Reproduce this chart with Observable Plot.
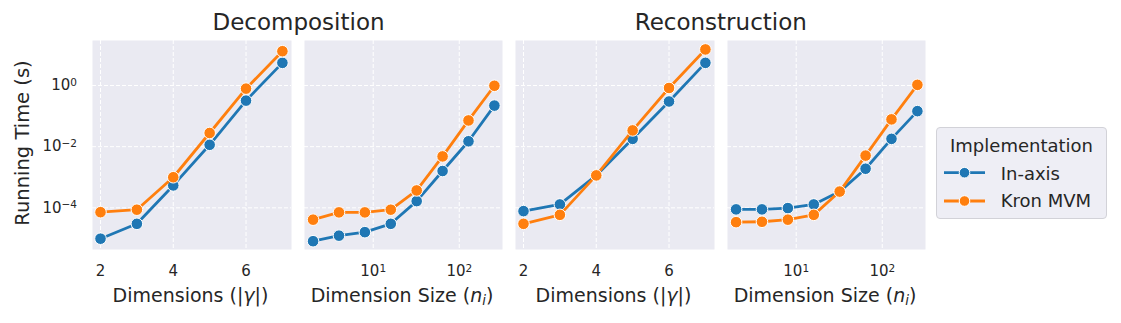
<!DOCTYPE html>
<html><head><meta charset="utf-8">
<script src="https://cdn.jsdelivr.net/npm/d3@7"></script>
<script src="https://cdn.jsdelivr.net/npm/@observablehq/plot@0.6"></script>
<style>
html,body{margin:0;padding:0;background:#fff;}
body{font-family:"DejaVu Sans",sans-serif;color:#262626;}
#root{position:relative;width:1121px;height:323px;overflow:hidden;background:#fff;}
#root svg.plt{position:absolute;left:0;top:0;}
.t{position:absolute;white-space:nowrap;line-height:1;}
.title{font-size:23px;transform:translateX(-50%);}
.xl{font-size:19px;transform:translateX(-50%);}
.xl sub{font-size:0.7em;line-height:0;vertical-align:-0.25em;}
.yl{font-size:19.5px;transform:translate(-50%,-50%) rotate(-90deg);}
#legend{position:absolute;left:936px;top:127px;width:171px;height:92px;background:rgba(234,234,242,0.8);border:1px solid #d2d2d8;border-radius:4px;box-sizing:border-box;}
.lg{font-size:18px;}
</style></head><body><div id="root"></div>
<script>
// ---- data ----
const series = ["In-axis", "Kron MVM"];
const colors = ["#1f77b4", "#ff7f0e"];
const dims = [2, 3, 4, 5, 6, 7];
const sizes = [2, 4, 8, 16, 32, 64, 128, 256];
const decompDimsInAxis = [9.8e-6, 3.0e-5, 5.4e-4, 1.15e-2, 0.32, 5.5];
const decompDimsKron   = [7.2e-5, 8.7e-5, 1.0e-3, 2.8e-2, 0.79, 13.2];
const decompSizeInAxis = [8.1e-6, 1.23e-5, 1.6e-5, 3.0e-5, 1.66e-4, 1.6e-3, 1.5e-2, 0.22];
const decompSizeKron   = [4.1e-5, 7.1e-5, 7.1e-5, 8.7e-5, 3.7e-4, 4.8e-3, 7.2e-2, 0.98];
const reconDimsInAxis  = [7.8e-5, 1.29e-4, 1.15e-3, 1.8e-2, 0.30, 5.5];
const reconDimsKron    = [3.0e-5, 5.9e-5, 1.15e-3, 3.4e-2, 0.83, 15.1];
const reconSizeInAxis  = [8.9e-5, 8.9e-5, 9.8e-5, 1.29e-4, 3.4e-4, 1.9e-3, 1.8e-2, 0.145];
const reconSizeKron    = [3.4e-5, 3.5e-5, 4.1e-5, 5.9e-5, 3.4e-4, 5.1e-3, 7.8e-2, 1.05];
const yTicks = [1e-4, 1e-2, 1];
const dimTicks = [2, 4, 6];
const sizeTicks = [10, 100];
const groupTitles = ["Decomposition", "Reconstruction"];
const yLabel = "Running Time (s)";
const xLabelDims = 'Dimensions (|<i>γ</i>|)';
const xLabelSize = 'Dimension Size (<i>n<sub>i</sub></i>)';
const legendTitle = "Implementation";

// ---- layout ----
const W = 1121, H = 323, frameTop = 40, frameBottom = 249;
const root = document.getElementById("root");

function rows(xs, a, b) {
  const out = [];
  xs.forEach((x, i) => out.push({x, y: a[i], s: series[0]}));
  xs.forEach((x, i) => out.push({x, y: b[i], s: series[1]}));
  return out;
}
const sup10 = d => "10^" + Math.round(Math.log10(d));

const panels = [
  {left: 92, right: 291, xs: dims, a: decompDimsInAxis, b: decompDimsKron, log: false, yAxis: true, label: xLabelDims},
  {left: 304, right: 502, xs: sizes, a: decompSizeInAxis, b: decompSizeKron, log: true, yAxis: false, label: xLabelSize},
  {left: 515, right: 714, xs: dims, a: reconDimsInAxis, b: reconDimsKron, log: false, yAxis: false, label: xLabelDims},
  {left: 727, right: 925, xs: sizes, a: reconSizeInAxis, b: reconSizeKron, log: true, yAxis: false, label: xLabelSize}
];

const gridStyle = {stroke: "white", strokeOpacity: 1, strokeWidth: 1, strokeDasharray: "4,2"};

panels.forEach(p => {
  const data = rows(p.xs, p.a, p.b);
  const marks = [
    Plot.frame({fill: "#eaeaf2", stroke: null}),
    Plot.gridY(yTicks, gridStyle),
    Plot.gridX(p.log ? sizeTicks : dimTicks, gridStyle),
  ];
  series.forEach(s => {
    const d = data.filter(r => r.s === s);
    marks.push(Plot.line(d, {x: "x", y: "y", stroke: "s", strokeWidth: 2.8}));
    marks.push(Plot.dot(d, {x: "x", y: "y", fill: "s", stroke: "white", strokeWidth: 1, r: 5.8}));
  });
  marks.push(Plot.axisX(p.log ? sizeTicks : dimTicks, {
    tickSize: 0, tickPadding: 16, label: null,
    tickFormat: p.log ? sup10 : (d => String(d))
  }));
  if (p.yAxis) marks.push(Plot.axisY(yTicks, {tickSize: 0, tickPadding: 15.5, label: null, tickFormat: sup10}));
  const svg = Plot.plot({
    width: W, height: H,
    marginLeft: p.left, marginRight: W - p.right, marginTop: frameTop, marginBottom: H - frameBottom,
    style: {background: "transparent", fontFamily: "DejaVu Sans", fontSize: "15px", color: "#262626", overflow: "visible"},
    x: p.log ? {type: "log", domain: [1.59, 318]} : {type: "linear", domain: [1.78, 7.25]},
    y: {type: "log", domain: [4.34e-6, 29.6], axis: p.yAxis ? undefined : null},
    color: {domain: series, range: colors},
    marks
  });
  svg.classList.add("plt");
  // render 10^k labels with a real superscript
  d3.select(svg).selectAll("text").each(function() {
    const t = this.textContent;
    if (t.startsWith("10^")) {
      const e = t.slice(3).replace("-", "\u2212");
      const sel = d3.select(this);
      sel.text("10");
      sel.append("tspan").attr("dy", "-0.42em").attr("font-size", "0.7em").text(e);
    }
  });
  root.appendChild(svg);

  const xl = document.createElement("div");
  xl.className = "t xl";
  xl.style.left = ((p.left + p.right) / 2 - 1) + "px";
  xl.style.top = "285.6px";
  xl.innerHTML = p.label;
  root.appendChild(xl);
});

// group titles
[[groupTitles[0], 298.5], [groupTitles[1], 720.8]].forEach(([txt, cx]) => {
  const d = document.createElement("div");
  d.className = "t title";
  d.style.left = cx + "px";
  d.style.top = "11.2px";
  d.textContent = txt;
  root.appendChild(d);
});

// y label
const yl = document.createElement("div");
yl.className = "t yl";
yl.style.left = "22.8px";
yl.style.top = "143.3px";
yl.textContent = yLabel;
root.appendChild(yl);

// legend
const lg = document.createElement("div");
lg.id = "legend";
root.appendChild(lg);
const lt = document.createElement("div");
lt.className = "t lg";
lt.style.left = "1021.5px"; lt.style.top = "136.5px"; lt.style.transform = "translateX(-50%)";
lt.textContent = legendTitle;
root.appendChild(lt);
const sw = d3.create("svg").attr("width", 50).attr("height", 60)
  .style("position", "absolute").style("left", "940px").style("top", "158px");
const entryTops = [164.8, 192.1];
series.forEach((s, i) => {
  const cy = 14.7 + i * 28.3;
  sw.append("line").attr("x1", 4).attr("x2", 45).attr("y1", cy).attr("y2", cy)
    .attr("stroke", colors[i]).attr("stroke-width", 2.8);
  sw.append("circle").attr("cx", 24.5).attr("cy", cy).attr("r", 5.3)
    .attr("fill", colors[i]).attr("stroke", "white").attr("stroke-width", 1);
  const tx = document.createElement("div");
  tx.className = "t lg";
  tx.style.left = "1000.7px";
  tx.style.top = entryTops[i] + "px";
  tx.textContent = s;
  root.appendChild(tx);
});
root.appendChild(sw.node());
</script></body></html>
